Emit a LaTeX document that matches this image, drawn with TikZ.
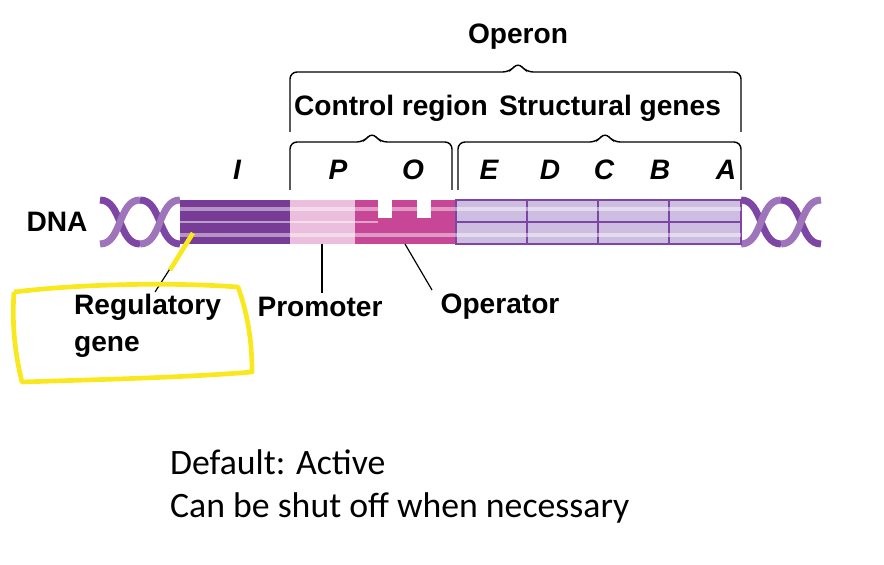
\documentclass[tikz,border=0pt]{standalone}
\usepackage{fontspec}
\setmainfont{Liberation Sans}
\newfontfamily\bodyfont{Carlito}
\usetikzlibrary{positioning}
\definecolor{regpurple}{RGB}{120,60,150}
\definecolor{prompink}{RGB}{236,190,222}
\definecolor{operpink}{RGB}{200,70,150}
\definecolor{structlav}{RGB}{205,190,225}
\definecolor{helix}{RGB}{125,70,165}
\definecolor{hilite}{RGB}{250,232,30}
\tikzset{
  lbl/.style={font=\bfseries\fontsize{24}{32}\selectfont},
  gene/.style={font=\bfseries\itshape\fontsize{24}{28}\selectfont},
  brk/.style={draw=black,line width=1.2pt,rounded corners=6pt},
  ptr/.style={draw=black,line width=1pt},
  strand/.style={draw=helix,line width=6pt},
}
\begin{document}
\begin{tikzpicture}[x=0.03cm,y=-0.03cm]
\useasboundingbox (0,0) rectangle (884,565);
% helices
\foreach \s in {100,140,741,781}{
  \draw[strand] (\s,200) .. controls (\s+22,200) and (\s+18,244) .. (\s+40,244);
  \draw[strand,helix!75] (\s,244) .. controls (\s+22,244) and (\s+18,200) .. (\s+40,200);
}
% DNA segments
\fill[regpurple] (180,200) rectangle (290,244);
\fill[prompink] (290,200) rectangle (355,244);
\fill[operpink] (355,200) rectangle (456,244);
\fill[white] (378,200) rectangle (392,218);
\fill[white] (417,200) rectangle (431,218);
\fill[structlav] (456,200) rectangle (741,244);
\foreach \x in {527,598,669}{\draw[helix,line width=1pt] (\x,200) -- (\x,244);}
\draw[helix,line width=1pt] (456,200) rectangle (741,244);
\draw[white,opacity=0.5,line width=1.5pt] (180,222) -- (378,222);
\draw[helix,line width=1pt] (456,222) -- (741,222);
\draw[white,opacity=0.45,line width=3pt] (180,209) -- (741,209) (180,235) -- (741,235);
% braces
\draw[brk] (290,132) -- (290,72) -- (510,72) -- (518,62) -- (526,72) -- (741,72) -- (741,132);
\draw[brk] (290,190) -- (290,142) -- (364,142) -- (372,132) -- (380,142) -- (452,142) -- (452,190);
\draw[brk] (458,190) -- (458,142) -- (597,142) -- (605,132) -- (613,142) -- (741,142) -- (741,190);
% labels
\node[lbl] (operon) at (518,37) {Operon};
\node[lbl] (ctrl) at (391,108) {Control region};
\node[lbl] (struct) at (610,108) {Structural genes};
\node[lbl] (dna) at (57,222) {DNA};
\foreach \g/\x in {I/237,P/338,O/413,E/489,D/550,C/604,B/660,A/726}{
  \node[gene] (g\g) at (\x,170) {\g};
}
\node[lbl,align=left,anchor=west] (reg) at (70,326) {Regulatory\\gene};
\node[lbl] (prom) at (320,307) {Promoter};
\node[lbl] (oper) at (500,307) {Operator};
\coordinate (regend) at (193,233);
\coordinate (promend) at (322,244);
\coordinate (operend) at (405,244);
\draw[ptr] (regend) -- (155,292);
\draw[ptr] (promend) -- (prom.north -| promend);
\draw[ptr] (operend) -- (432,290);
% highlight
\draw[hilite,line width=4pt,line join=round] (14,292) .. controls (80,284) and (170,282) .. (238,287)
  .. controls (250,320) and (252,350) .. (252,372) .. controls (180,378) and (80,380) .. (22,382)
  .. controls (14,350) and (12,320) .. (14,292);
\draw[hilite,line width=4pt] (193,233) -- (170,270);
% notes
\node[font=\bodyfont\fontsize{30.5}{36.6}\selectfont,align=left,anchor=north west] (note) at (166,446)
  {Default: Active\\Can be shut off when necessary};
\end{tikzpicture}
\end{document}
